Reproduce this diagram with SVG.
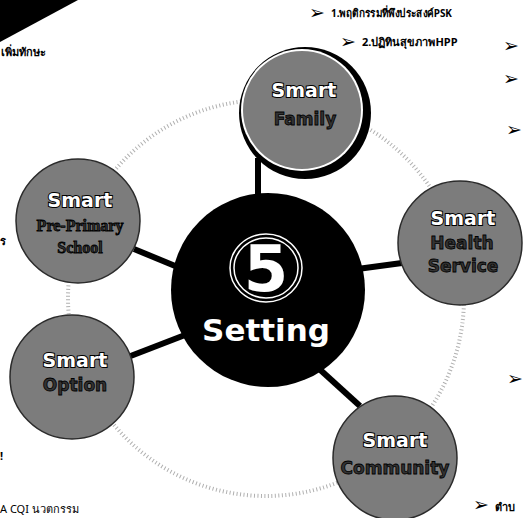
<svg xmlns="http://www.w3.org/2000/svg" width="525" height="518" viewBox="0 0 525 518">
  <style>
    .note{font-family:"Noto Sans","DejaVu Sans",sans-serif;font-size:11px;font-weight:bold;fill:#000}
    .plain{font-family:"Noto Sans","DejaVu Sans",sans-serif;font-size:11px;fill:#000}
    .bullet{font-family:"DejaVu Sans",sans-serif;font-size:19px;font-weight:bold;fill:#000}
    .disc{fill:#7c7c7c;stroke:#2b2b2b;stroke-width:1.5}
    .smart{font-family:"DejaVu Sans",sans-serif;font-weight:bold;font-size:19px;fill:#fff;stroke:#000;stroke-width:2;paint-order:stroke;text-anchor:middle}
    .sub{font-family:"DejaVu Sans",sans-serif;font-weight:bold;font-size:17px;fill:#333;stroke:#000;stroke-width:0.8;text-anchor:middle}
    .serif{font-family:"Liberation Serif",serif;font-size:16px}
    .link{stroke:#000;stroke-width:6;fill:none}
    .orbit{fill:none;stroke:#b0b0b0;stroke-width:4;stroke-dasharray:1 2.5}
  </style>

  <!-- corner wedge -->
  <polygon points="0,0 78,0 0,42" fill="#000"/>

  <!-- side notes -->
  <g id="notes">
    <text class="bullet" x="309" y="19">➢</text>
    <text class="note" x="331" y="17" textLength="121" lengthAdjust="spacingAndGlyphs">1.พฤติกรรมที่พึงประสงค์PSK</text>
    <text class="bullet" x="340" y="48">➢</text>
    <text class="note" x="362" y="46">2.ปฏิทินสุขภาพHPP</text>
    <text class="bullet" x="503" y="52">➢</text>
    <text class="bullet" x="503" y="85">➢</text>
    <text class="bullet" x="506" y="136">➢</text>
    <text class="bullet" x="507" y="385">➢</text>
    <text class="bullet" x="473" y="511">➢</text>
    <text class="note" x="495" y="511">ตำบ</text>
    <text class="note" x="1" y="56">เพิ่มทักษะ</text>
    <text class="note" x="0" y="245">ร</text>
    <text class="note" x="0" y="460">!</text>
    <text class="plain" x="0" y="513">A CQI นวตกรรม</text>
  </g>

  <!-- dotted orbit through the outer nodes -->
  <circle class="orbit" cx="266" cy="298" r="198"/>

  <!-- spokes -->
  <g id="connectors">
    <line class="link" x1="258" y1="158" x2="258" y2="205"/>
    <line class="link" x1="134" y1="249" x2="180" y2="268"/>
    <line class="link" x1="350" y1="270" x2="402" y2="263"/>
    <line class="link" x1="128" y1="357" x2="185" y2="335"/>
    <line class="link" x1="316" y1="366" x2="360" y2="406"/>
  </g>

  <!-- hub -->
  <g id="hub">
    <circle cx="268" cy="290" r="97" fill="#000"/>
    <ellipse cx="266" cy="268" rx="36" ry="34" fill="none" stroke="#fff" stroke-width="1.5"/>
    <ellipse cx="266" cy="268" rx="32" ry="30" fill="none" stroke="#fff" stroke-width="1.5"/>
    <text x="266" y="291" text-anchor="middle" font-family="DejaVu Sans, sans-serif" font-weight="bold" font-size="64" fill="#fff">5</text>
    <text x="266" y="341" text-anchor="middle" font-family="DejaVu Sans, sans-serif" font-weight="bold" font-size="31" fill="#fff">Setting</text>
  </g>

  <g id="family">
    <circle cx="305" cy="113" r="66" fill="#000"/>
    <circle cx="302" cy="110" r="61" fill="#fff"/>
    <circle cx="302" cy="110" r="59" fill="#7c7c7c"/>
    <text class="smart" x="304" y="97">Smart</text>
    <text class="sub" x="305" y="125">Family</text>
  </g>

  <g id="pre-primary">
    <circle class="disc" cx="78" cy="221" r="62"/>
    <text class="smart" x="80" y="207">Smart</text>
    <text class="sub serif" x="80" y="231">Pre-Primary</text>
    <text class="sub serif" x="80" y="253">School</text>
  </g>

  <g id="health">
    <circle class="disc" cx="460" cy="243" r="62"/>
    <text class="smart" x="463" y="225">Smart</text>
    <text class="sub" x="462" y="249">Health</text>
    <text class="sub" x="463" y="272">Service</text>
  </g>

  <g id="option">
    <circle class="disc" cx="72" cy="377" r="62"/>
    <text class="smart" x="75" y="367">Smart</text>
    <text class="sub" x="75" y="391">Option</text>
  </g>

  <g id="community">
    <circle class="disc" cx="395" cy="458" r="62"/>
    <text class="smart" x="395" y="447">Smart</text>
    <text class="sub" x="395" y="474">Community</text>
  </g>
</svg>
